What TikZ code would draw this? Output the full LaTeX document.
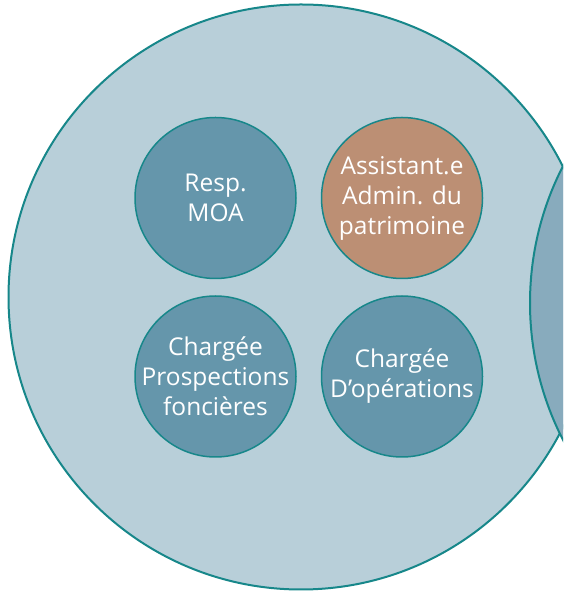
\documentclass[tikz,border=0pt]{standalone}
\usepackage{fontspec}
\setmainfont{Open Sans}
\usepackage{xcolor}
\usetikzlibrary{positioning}
\definecolor{pole}{HTML}{B8CFD9}
\definecolor{bord}{HTML}{17878A}
\definecolor{posteblue}{HTML}{6596AB}
\definecolor{brun}{HTML}{BC8F74}
\definecolor{voisin}{HTML}{88ABBD}

\begin{document}
\begin{tikzpicture}[x=1pt, y=1pt,
    poste/.style={circle, draw=bord, line width=1.5pt, fill=posteblue, minimum size=161pt,
      inner sep=-30pt, align=center, text=white, font=\fontsize{24.5}{30}\selectfont},
    node distance=16pt and 24pt]
  \useasboundingbox (0,0) rectangle (563,594);
  \clip (0,0) rectangle (563,594);
  % les deux poles
  \node [circle, draw=bord, line width=2pt, fill=pole, minimum size=585pt] (pole) at (301,297) {};
  \node [circle, draw=bord, line width=2pt, fill=voisin, minimum size=600pt] (voisin) at (830,291) {};
  % les postes
  \node [poste] (moa) at (215.5,396) {Resp.\\MOA};
  \node [poste, right=of moa, fill=brun] (assist) {Assistant.e\\Admin. du\\patrimoine};
  \node [poste, below=of moa] (prosp) {Chargée\\Prospections\\foncières};
  \node [poste, right=of prosp] (oper) {Chargée\\D’opérations};
\end{tikzpicture}
\end{document}
